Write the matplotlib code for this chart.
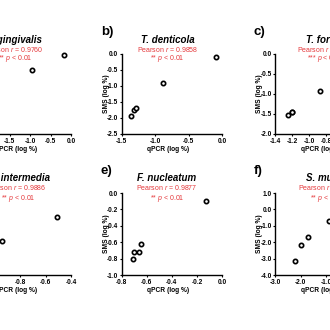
import matplotlib
matplotlib.use('Agg')
import matplotlib.pyplot as plt
from matplotlib import font_manager as fm
from matplotlib.ticker import FormatStrFormatter

names = {f.name for f in fm.fontManager.ttflist}
FONT = 'Liberation Sans Narrow' if 'Liberation Sans Narrow' in names else 'Liberation Sans'
plt.rcParams['font.family'] = [FONT, 'DejaVu Sans']
plt.rcParams['axes.unicode_minus'] = False
plt.rcParams['mathtext.fontset'] = 'custom'
plt.rcParams['mathtext.rm'] = FONT
plt.rcParams['mathtext.it'] = FONT + ':italic'
plt.rcParams['mathtext.bf'] = FONT + ':bold'

# ---------------- data ----------------
letters = ['a)', 'b)', 'c)', 'd)', 'e)', 'f)']
titles = ['P. gingivalis', 'T. denticola', 'T. forsythia',
          'P. intermedia', 'F. nucleatum', 'S. mutans']
pearson_r = ['0.9760', '0.9858', '0.99', '0.9886', '0.9877', '0.98']
stars = ['**', '**', '***', '**', '**', '**']
p_thr = ['0.01', '0.01', '0.001', '0.01', '0.01', '0.01']

x_a = [-0.95, -0.17]
y_a = [-0.50, -0.02]
x_b = [-1.365, -1.309, -1.286, -0.878, -0.090]
y_b = [-1.95, -1.75, -1.68, -0.92, -0.08]
x_c = [-1.247, -1.204, -1.196, -0.871]
y_c = [-1.52, -1.45, -1.44, -0.925]
x_d = [-0.94, -0.51]
y_d = [-0.58, -0.29]
x_e = [-0.707, -0.700, -0.660, -0.650, -0.125]
y_e = [-0.809, -0.724, -0.716, -0.622, -0.098]
x_f = [-2.23, -1.98, -1.69, -0.87]
y_f = [-3.12, -2.17, -1.66, -0.68]

xs = [x_a, x_b, x_c, x_d, x_e, x_f]
ys = [y_a, y_b, y_c, y_d, y_e, y_f]

xticks = [[-2.5, -2.0, -1.5, -1.0, -0.5, 0.0],
          [-1.5, -1.0, -0.5, 0.0],
          [-1.4, -1.2, -1.0, -0.8, -0.6, -0.4, -0.2],
          [-1.2, -1.0, -0.8, -0.6, -0.4],
          [-0.8, -0.6, -0.4, -0.2, 0.0],
          [-3.0, -2.0, -1.0, 0.0, 1.0]]
yticks = [[-2.5, -2.0, -1.5, -1.0, -0.5, 0.0],
          [-2.5, -2.0, -1.5, -1.0, -0.5, 0.0],
          [-2.0, -1.5, -1.0, -0.5, 0.0],
          [-1.0, -0.8, -0.6, -0.4, -0.2, 0.0],
          [-1.0, -0.8, -0.6, -0.4, -0.2, 0.0],
          [-4.0, -3.0, -2.0, -1.0, 0.0, 1.0]]

# ---------------- layout (pixel geometry) ----------------
W = H = 330
fig = plt.figure(figsize=(3.3, 3.3), dpi=100)
fig.patch.set_facecolor('white')

col_x = [(-31, 71), (121.7, 222), (275, 377)]
row_y = [(54, 134), (193, 275)]


def px(x, y):
    return x / W, 1 - y / H


RED = '#e5383b'
text_rows = [(40, 49.5, 58.5), (178, 188, 198)]
# text anchoring per panel: (ha, x_title, x_pearson, x_p)
text_anchor = [('right', 42, 43, 33),
               ('center', 168, 168, 167),
               ('left', 306, 297, 307),
               ('right', 50, 46, 36),
               ('center', 167, 167, 167),
               ('left', 306, 298, 310)]
letter_pos = [(-52, 32.5), (101, 32.5), (254, 32.5),
              (-52, 171), (101, 171), (254, 171)]

for i in range(6):
    r, c = divmod(i, 3)
    x0, x1 = col_x[c]
    y0, y1 = row_y[r]
    ax = fig.add_axes([x0 / W, 1 - y1 / H, (x1 - x0) / W, (y1 - y0) / H])
    ax.plot(xs[i], ys[i], linestyle='none', marker='o', ms=3.1, mew=1.2,
            mfc='white', mec='black', clip_on=False, zorder=3)
    ax.set_xlim(xticks[i][0], xticks[i][-1])
    ax.set_ylim(yticks[i][0], yticks[i][-1])
    ax.set_xticks(xticks[i])
    ax.set_yticks(yticks[i])
    ax.xaxis.set_major_formatter(FormatStrFormatter('%.1f'))
    ax.yaxis.set_major_formatter(FormatStrFormatter('%.1f'))
    for s in ['top', 'right']:
        ax.spines[s].set_visible(False)
    for s in ['left', 'bottom']:
        ax.spines[s].set_linewidth(1.0)
    ax.tick_params(axis='both', direction='out', length=1.6, width=0.8,
                   labelsize=4.7)
    ax.tick_params(axis='x', pad=1.4)
    ax.tick_params(axis='y', pad=0.9)
    for lab in ax.get_xticklabels() + ax.get_yticklabels():
        lab.set_fontweight('bold')
    ax.set_facecolor('none')

    # axis labels
    fig.text(*px((x0 + x1) / 2 - 4, y1 + 15.5), 'qPCR (log %)', ha='center',
             va='center', fontsize=4.8, fontweight='bold')
    fig.text(*px(x0 - 15.5, (y0 + y1) / 2), 'SMS (log %)', ha='center',
             va='center', fontsize=4.8, fontweight='bold', rotation=90)

    # titles and stats
    ha, xt, xp, xq = text_anchor[i]
    ty, pyy, qy = text_rows[r]
    fig.text(*px(xt, ty), titles[i], ha=ha, va='center', fontsize=7,
             fontweight='bold', fontstyle='italic')
    fig.text(*px(xp, pyy), 'Pearson $r$ = ' + pearson_r[i], ha=ha, va='center',
             fontsize=5.0, color=RED)
    fig.text(*px(xq, qy), stars[i] + ' $p$ < ' + p_thr[i], ha=ha, va='center',
             fontsize=5.0, color=RED)

    lx, ly = letter_pos[i]
    fig.text(*px(lx, ly), letters[i], ha='left', va='center', fontsize=9.5,
             fontweight='bold', family='Liberation Sans')

fig.savefig('out.png', dpi=100, facecolor='white')
